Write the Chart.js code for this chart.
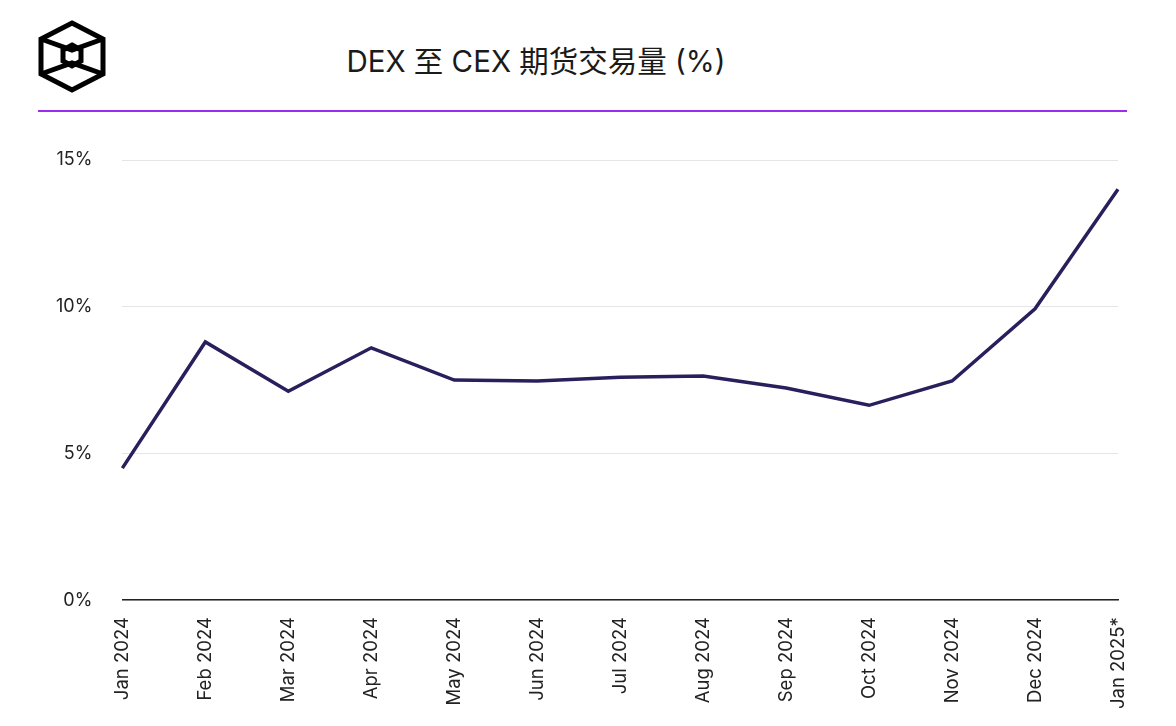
<!DOCTYPE html>
<html><head><meta charset="utf-8">
<script src="https://cdn.jsdelivr.net/npm/chart.js@4"></script>
<style>
body{margin:0;background:#fff;width:1176px;height:726px;overflow:hidden;position:relative;font-family:Inter,"Noto Sans CJK SC",sans-serif}
#title{position:absolute;left:0;width:1072px;top:38px;text-align:center;font-size:29.5px;color:#1a1a1a}
#rule{position:absolute;left:38px;width:1089px;top:110px;height:2px;background:#9b2cf0}
#logo{position:absolute;left:0;top:0}
#wrap{position:absolute;left:0;top:0;width:1176px;height:726px}
</style></head><body>
<svg id="logo" width="130" height="100"><g fill="none" stroke="#000" stroke-width="5" stroke-linejoin="miter">
<polygon points="72,23 103,39 103,74 72,90 41,74 41,39"/>
<polyline points="41,39 72,50 103,39"/>
<polyline points="41,74 72,63 103,74"/>
<polygon points="72,45 81,50 81,61 72,66 63,61 63,50"/>
</g></svg>
<div id="title">DEX 至 CEX 期货交易量 (%)</div>
<div id="rule"></div>
<div id="wrap"><canvas id="c"></canvas></div>
<script>
const categories=["Jan 2024","Feb 2024","Mar 2024","Apr 2024","May 2024","Jun 2024","Jul 2024","Aug 2024","Sep 2024","Oct 2024","Nov 2024","Dec 2024","Jan 2025*"];
const ratio=[4.5,8.8,7.12,8.6,7.5,7.47,7.6,7.64,7.23,6.64,7.47,9.93,14.0];
const yTicks=[0,5,10,15];
new Chart(document.getElementById('c'),{
type:'line',
data:{labels:categories,datasets:[{data:ratio,borderColor:'#2a1f5c',borderWidth:3.5,pointRadius:0,tension:0}]},
options:{responsive:true,maintainAspectRatio:false,animation:false,
layout:{padding:{top:160,left:26,right:58,bottom:0}},
plugins:{legend:{display:false},tooltip:{enabled:false}},
scales:{
x:{offset:false,grid:{display:false,drawTicks:false},border:{color:'#222',width:1.5},
 ticks:{color:'#222',font:{family:'Inter',size:18.5},maxRotation:90,minRotation:90,padding:17,autoSkip:false}},
y:{min:0,max:15,afterBuildTicks:a=>{a.ticks=yTicks.map(v=>({value:v}))},
 grid:{color:'#e6e6e6',drawTicks:false},border:{display:false},
 ticks:{color:'#222',font:{family:'Inter',size:18},padding:30,callback:v=>v+'%'}}
}}});
</script></body></html>
